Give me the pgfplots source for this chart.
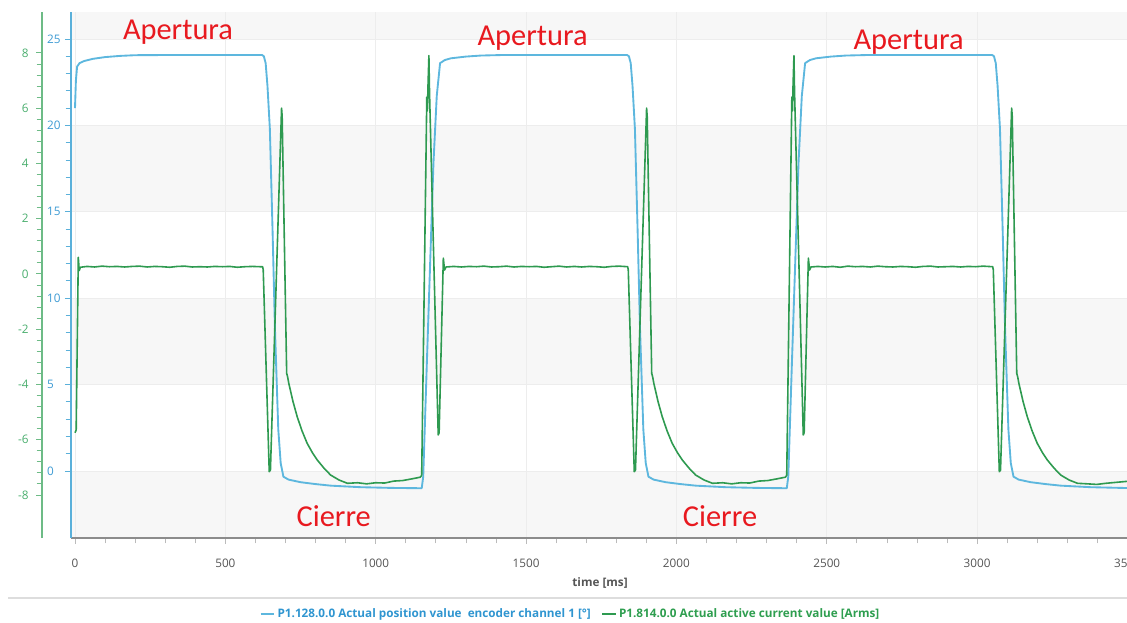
\documentclass[border=0pt]{standalone}
\usepackage{fontspec}
\setmainfont{Open Sans}
\newfontfamily\calib{Carlito}
\usepackage{pgfplots}
\pgfplotsset{compat=1.18}
\usepackage{pgfplotstable}
\definecolor{bluecurve}{HTML}{5DB7DE}
\definecolor{blueaxcol}{HTML}{5AB0DA}
\definecolor{bluelabcol}{HTML}{3C9AD3}
\definecolor{greencurve}{HTML}{2E9A50}
\definecolor{greenaxcol}{HTML}{6DBB86}
\definecolor{greenlabcol}{HTML}{4AAE6E}
\definecolor{redtxt}{HTML}{E8191F}
\definecolor{bandcol}{HTML}{F7F7F7}
\definecolor{gridcol}{HTML}{EDEDED}
\definecolor{xaxcol}{HTML}{8C8C8C}
\definecolor{xtickcol}{HTML}{BBBBBB}
\definecolor{ticklabcol}{HTML}{555555}
\definecolor{sepcol}{HTML}{DDDDDD}
\definecolor{legblue}{HTML}{2F95D0}
\definecolor{leggreen}{HTML}{2E9E4F}

\pgfplotstableread{
t p
0 21.0
3 22.6
7 23.4
15 23.6
30 23.72
60 23.85
100 23.95
150 24.02
200 24.06
300 24.07
622 24.07
628 24.0
634 23.6
640 22.3
648 19.8
657 13.9
665 8.2
676 2.4
684 0.45
693 -0.33
710 -0.5
750 -0.65
800 -0.76
850 -0.85
950 -0.94
1050 -0.98
1153 -1.0
1158 -0.33
1170 6.2
1181 12.0
1192 17.8
1203 21.7
1214 23.6
1230 23.78
1250 23.88
1300 23.98
1350 24.04
1420 24.07
1836 24.07
1842 24.0
1848 23.6
1854 22.3
1862 19.8
1871 13.9
1879 8.2
1890 2.4
1898 0.45
1907 -0.33
1924 -0.5
1964 -0.65
2014 -0.76
2064 -0.85
2164 -0.94
2264 -0.98
2367 -1.0
2372 -0.33
2384 6.2
2395 12.0
2406 17.8
2417 21.7
2428 23.6
2444 23.78
2464 23.88
2514 23.98
2564 24.04
2634 24.07
3050 24.07
3056 24.0
3062 23.6
3068 22.3
3076 19.8
3085 13.9
3093 8.2
3104 2.4
3112 0.45
3121 -0.33
3138 -0.5
3178 -0.65
3228 -0.76
3278 -0.85
3378 -0.94
3478 -0.98
3510 -0.99
}\posdata

\pgfplotstableread{
t i
0 -5.75
4 -5.65
11 0.6
14 0.12
18 0.24
40 0.27
65 0.25
90 0.28
115 0.26
140 0.27
165 0.25
190 0.27
215 0.28
240 0.25
265 0.27
290 0.26
315 0.24
340 0.27
365 0.28
390 0.25
415 0.26
440 0.25
465 0.27
490 0.26
515 0.27
540 0.24
565 0.26
590 0.27
615 0.26
624 0.26
626 0.15
646 -7.16
650 -7.1
687 6.0
689 5.7
704 -3.6
707 -3.72
711 -3.96
725 -4.62
739 -5.17
755 -5.68
772 -6.13
790 -6.48
806 -6.74
828 -7.03
850 -7.28
878 -7.46
906 -7.58
940 -7.56
970 -7.6
1000 -7.56
1030 -7.57
1060 -7.5
1090 -7.48
1120 -7.42
1148 -7.36
1153 -7.3
1170 6.4
1172 5.9
1174 6.8
1177 7.9
1179 6.6
1208 -5.83
1211 -5.75
1225 0.57
1229 0.14
1234 0.25
1260 0.27
1285 0.25
1310 0.27
1335 0.26
1360 0.28
1385 0.25
1410 0.26
1435 0.28
1460 0.25
1485 0.27
1510 0.26
1535 0.27
1560 0.24
1585 0.26
1610 0.28
1635 0.25
1660 0.27
1685 0.25
1710 0.27
1735 0.26
1760 0.24
1785 0.27
1810 0.28
1838 0.26
1840 0.15
1860 -7.16
1864 -7.1
1901 6.0
1903 5.7
1918 -3.6
1921 -3.72
1925 -3.96
1939 -4.62
1953 -5.17
1969 -5.68
1986 -6.13
2004 -6.48
2020 -6.74
2042 -7.03
2064 -7.28
2092 -7.46
2120 -7.58
2154 -7.56
2184 -7.6
2214 -7.56
2244 -7.57
2274 -7.5
2304 -7.48
2334 -7.42
2362 -7.36
2367 -7.3
2384 6.4
2386 5.9
2388 6.8
2391 7.9
2393 6.6
2422 -5.83
2425 -5.75
2439 0.57
2443 0.14
2448 0.25
2470 0.27
2495 0.25
2520 0.27
2545 0.24
2570 0.28
2595 0.26
2620 0.27
2645 0.25
2670 0.28
2695 0.26
2720 0.25
2745 0.27
2770 0.26
2795 0.24
2820 0.27
2845 0.28
2870 0.25
2895 0.26
2920 0.27
2945 0.25
2970 0.27
2995 0.26
3020 0.28
3052 0.26
3054 0.15
3074 -7.16
3078 -7.1
3115 6.0
3117 5.7
3132 -3.6
3135 -3.72
3139 -3.96
3153 -4.62
3167 -5.17
3183 -5.68
3200 -6.13
3218 -6.48
3234 -6.74
3256 -7.03
3278 -7.28
3306 -7.46
3334 -7.58
3368 -7.6
3398 -7.62
3428 -7.58
3458 -7.55
3488 -7.52
3510 -7.5
}\curdata

\begin{document}
\begin{tikzpicture}
\begin{axis}[
  at={(53.25pt,63pt)}, anchor=south west,
  scale only axis, width=792.8pt, height=394.5pt,
  xmin=-13.3, xmax=3502, ymin=-3.88, ymax=26.56,
  set layers,
  axis x line*=bottom, axis y line*=left,
  x axis line style={-, draw=xaxcol, line width=1.3pt},
  y axis line style={-, draw=blueaxcol, line width=1.3pt},
  xtick={0,500,...,3500}, minor x tick num=4,
  ytick={0,5,...,25}, minor y tick num=4,
  tick align=outside, major tick length=4.5pt, minor tick length=4pt,
  xtick style={draw=xtickcol, line width=0.6pt},
  ytick style={draw=blueaxcol, line width=0.6pt},
  xmajorgrids, ymajorgrids, grid style={draw=gridcol, line width=0.6pt},
  tick label style={font=\fontsize{8.8}{10}\selectfont},
  xticklabel style={text=ticklabcol, yshift=-8pt},
  yticklabel style={text=bluelabcol, anchor=west, xshift=-17pt},
  /pgf/number format/assume math mode=true,
  /pgf/number format/1000 sep={},
  scaled x ticks=false,
]
\begin{pgfonlayer}{axis background}
\fill[bandcol] (-13.3,25) rectangle (3502,26.56);
\fill[bandcol] (-13.3,15) rectangle (3502,20);
\fill[bandcol] (-13.3,5) rectangle (3502,10);
\fill[bandcol] (-13.3,-3.88) rectangle (3502,0);
\end{pgfonlayer}
\addplot[bluecurve, line width=1.4pt, line join=round] table[x=t, y=p] {\posdata};
\end{axis}

\begin{axis}[
  at={(31.5pt,63pt)}, anchor=south west,
  scale only axis, width=814.5pt, height=394.5pt,
  xmin=-109.7, xmax=3502, ymin=-9.56, ymax=9.48,
  axis x line=none, axis y line*=left,
  y axis line style={-, draw=greenaxcol, line width=1.3pt},
  ytick={-8,-6,...,8}, minor y tick num=4,
  tick align=outside, major tick length=4.5pt, minor tick length=4pt,
  ytick style={draw=greenaxcol, line width=0.6pt},
  tick label style={font=\fontsize{8.8}{10}\selectfont},
  yticklabel style={text=greenlabcol, anchor=east, xshift=-2pt},
  /pgf/number format/assume math mode=true,
  legend style={at={(0.487,-0.1445)}, anchor=center, draw=none, fill=none,
    legend columns=2, font=\bfseries\fontsize{8.8}{10}\selectfont,
    /tikz/every even column/.append style={column sep=6pt}},
  legend image code/.code={\draw[#1] (0pt,0pt) -- (10pt,0pt);},
]
\addlegendimage{bluecurve, line width=1.4pt}
\addlegendentry{\textcolor{legblue}{P1.128.0.0 Actual position value\ \ encoder channel 1 [°]}}
\addplot[greencurve, line width=1.2pt, line join=round] table[x=t, y=i] {\curdata};
\addlegendentry{\textcolor{leggreen}{P1.814.0.0 Actual active current value [Arms]}}
\end{axis}

\node[font=\bfseries\fontsize{8.8}{10}\selectfont, text=ticklabcol] at (450pt,29pt) {time [ms]};
\draw[sepcol, line width=1.5pt] (6pt,18pt) -- (845.25pt,18pt);

\begin{scope}[every node/.style={font=\calib\fontsize{22.8}{26}\selectfont, text=redtxt, anchor=base, inner sep=0pt}]
\node at (133.5pt,437pt) {Apertura};
\node at (399.4pt,432.5pt) {Apertura};
\node at (681.4pt,429pt) {Apertura};
\node at (250.3pt,71.5pt) {Cierre};
\node at (540pt,72pt) {Cierre};
\end{scope}

\pgfresetboundingbox
\path[use as bounding box] (0,0) rectangle (845.25pt,466.5pt);
\end{tikzpicture}
\end{document}
